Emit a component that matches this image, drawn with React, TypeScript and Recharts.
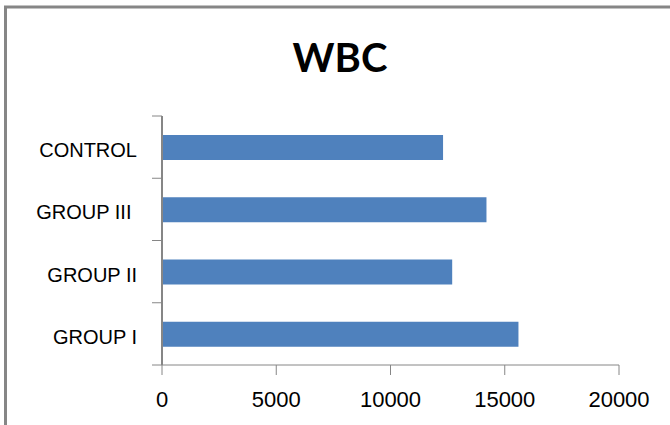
import React from "react";
import { BarChart, Bar, XAxis, YAxis } from "recharts";

// Groups, listed top to bottom as they appear on the axis
const categories = ["CONTROL", "GROUP III ", "GROUP II", "GROUP I"];
// White blood cell counts per group
const wbcValues = [12300, 14200, 12700, 15600];
// Value axis ticks
const xTicks = [0, 5000, 10000, 15000, 20000];

const data = categories.map((name, i) => ({ name, wbc: wbcValues[i] }));

const W = 670;
const H = 425;
const MARGIN = { top: 116, right: 51, bottom: 0, left: 0 };
const X_AXIS_H = 60;
const Y_AXIS_W = 162;
const PLOT_H = H - MARGIN.top - MARGIN.bottom - X_AXIS_H;
const HALF_BAND = PLOT_H / categories.length / 2;

const AXIS_GREY = "#868686";
const BAR_BLUE = "#4F81BD";
const LABEL_FONT = "'Liberation Sans', Arial, sans-serif";

// Category label plus a short tick mark on the band boundaries
const CategoryTick = (props: any) => {
  const { x, y, payload, index } = props;
  const axisX = x + 25;
  return (
    <g>
      <line
        x1={axisX - 10}
        x2={axisX}
        y1={y - HALF_BAND}
        y2={y - HALF_BAND}
        stroke={AXIS_GREY}
        strokeWidth={1}
      />
      {index === categories.length - 1 && (
        <line
          x1={axisX - 10}
          x2={axisX}
          y1={y + HALF_BAND}
          y2={y + HALF_BAND}
          stroke={AXIS_GREY}
          strokeWidth={1}
        />
      )}
      <text
        x={x}
        y={y}
        dy={10}
        textAnchor="end"
        fill="#000"
        fontSize={20}
        fontFamily={LABEL_FONT}
        style={{ whiteSpace: "pre" }}
      >
        {payload.value}
      </text>
    </g>
  );
};

export default function App() {
  return (
    <div style={{ position: "absolute", left: 0, top: 0, width: W, height: H, background: "#fff" }}>
      <svg width={W} height={H} style={{ position: "absolute", left: 0, top: 0 }}>
        <line x1={5.5} y1={6} x2={5.5} y2={H} stroke={AXIS_GREY} strokeWidth={3} />
        <line x1={4} y1={7} x2={W} y2={7} stroke={AXIS_GREY} strokeWidth={3} />
        <text
          x={340}
          y={72}
          textAnchor="middle"
          fontSize={40}
          fontWeight="bold"
          fontFamily="Lato, 'Liberation Sans', sans-serif"
          fill="#000"
        >
          WBC
        </text>
      </svg>
      <div style={{ position: "absolute", left: 0, top: 0 }}>
        <BarChart width={W} height={H} data={data} layout="vertical" margin={MARGIN}>
          <XAxis
            type="number"
            domain={[0, 20000]}
            ticks={xTicks}
            interval={0}
            height={X_AXIS_H}
            tickSize={10}
            tickMargin={16}
            axisLine={{ stroke: AXIS_GREY, strokeWidth: 1 }}
            tickLine={{ stroke: AXIS_GREY, strokeWidth: 1 }}
            tick={{ fill: "#000", fontSize: 22, fontFamily: LABEL_FONT }}
          />
          <YAxis
            type="category"
            dataKey="name"
            width={Y_AXIS_W}
            tickSize={10}
            tickMargin={15}
            tickLine={false}
            axisLine={{ stroke: AXIS_GREY, strokeWidth: 2 }}
            tick={<CategoryTick />}
            interval={0}
          />
          <Bar dataKey="wbc" fill={BAR_BLUE} barSize={25} isAnimationActive={false} />
        </BarChart>
      </div>
    </div>
  );
}
